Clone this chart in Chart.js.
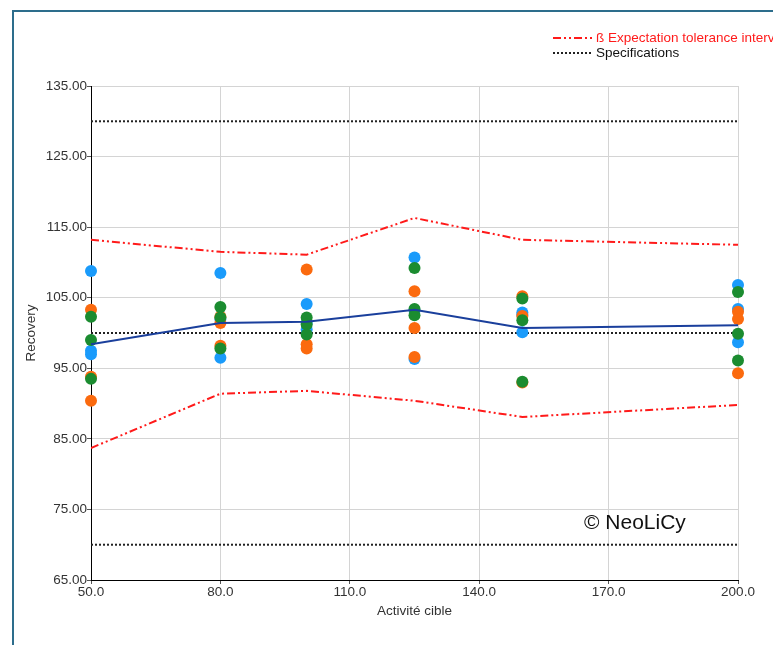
<!DOCTYPE html>
<html>
<head>
<meta charset="utf-8">
<script src="https://cdn.jsdelivr.net/npm/chart.js@4/dist/chart.umd.min.js"></script>
<style>
    html, body { margin: 0; padding: 0; background: #fff; }
    #wrap { position: relative; width: 773px; height: 645px; }
</style>
</head>
<body>
<div id="wrap"><canvas id="ctx" width="773" height="645"></canvas></div>
<script>
// target activity levels
const levels = [50, 80, 100, 125, 150, 200];

// recovery per level, three replicates per series
const seriesBlue = [[108.8, 97.5, 97.0], [108.5, 102.0, 96.5], [104.1, 101.4, 100.5], [110.7, 103.2, 96.3], [102.9, 102.6, 100.1], [106.8, 103.4, 98.7]];
const seriesOrange = [[103.3, 93.8, 90.4], [102.3, 101.4, 98.2], [109.0, 98.4, 97.8], [105.9, 100.7, 96.6], [105.2, 102.4, 93.0], [103.0, 102.0, 94.3]];
const seriesGreen = [[102.3, 99.0, 93.5], [103.7, 102.2, 97.8], [102.2, 101.2, 99.8], [109.2, 103.4, 102.5], [104.9, 101.8, 93.1], [105.8, 99.9, 96.1]];

const meanRecovery = [98.4, 101.4, 101.6, 103.3, 100.7, 101.1];
const toleranceUpper = [113.2, 111.5, 111.1, 116.3, 113.2, 112.5];
const toleranceLower = [83.7, 91.4, 91.8, 90.4, 88.1, 89.8];

const specLower = 70;
const specTarget = 100;
const specUpper = 130;

const yTicks = [65, 75, 85, 95, 105, 115, 125, 135];
const xTicks = [50, 80, 110, 140, 170, 200];

const toleranceLabel = 'ß Expectation tolerance interval';
const specLabel = 'Specifications';
const watermark = '© NeoLiCy';

const font = '"Liberation Sans", Arial, sans-serif';
const fontSize = 13.5;
const redDash = [8, 3, 2, 3, 2, 3];
const dotDash = [2, 2];

function points(values) {
    let out = [];
    values.forEach((reps, i) => reps.forEach(v => out.push({x: levels[i], y: v})));
    return out;
}

function line(values) {
    return values.map((v, i) => ({x: levels[i], y: v}));
}

function flat(v) {
    return [{x: xTicks[0], y: v}, {x: xTicks[xTicks.length - 1], y: v}];
}

function lineSet(label, data, color, dash, order) {
    return {
        type: 'line', label: label, data: data,
        borderColor: color, borderWidth: 2, borderDash: dash,
        pointRadius: 0, fill: false, tension: 0, order: order
    };
}

function pointSet(label, data, color, order) {
    return {
        type: 'scatter', label: label, data: data,
        backgroundColor: color, borderWidth: 0, clip: false,
        pointRadius: 6, pointHoverRadius: 6, order: order
    };
}

// frame, legend and watermark drawn straight onto the canvas
const decorations = {
    id: 'decorations',
    beforeDraw(chart) {
        let c = chart.ctx;
        c.save();
        c.fillStyle = '#fff';
        c.fillRect(0, 0, chart.width, chart.height);
        c.strokeStyle = '#2d6d8c';
        c.lineWidth = 2;
        c.beginPath();
        c.moveTo(13, chart.height);
        c.lineTo(13, 11);
        c.lineTo(chart.width, 11);
        c.stroke();
        c.restore();
    },
    afterDraw(chart) {
        let c = chart.ctx;
        c.save();
        let items = [
            {text: toleranceLabel, color: '#ff1a1a', text_color: '#ff1a1a', dash: redDash, y: 38},
            {text: specLabel, color: '#222', text_color: '#111', dash: dotDash, y: 53}
        ];
        c.font = fontSize + 'px ' + font;
        c.textBaseline = 'middle';
        for (let it of items) {
            c.strokeStyle = it.color;
            c.lineWidth = 2;
            c.setLineDash(it.dash);
            c.beginPath();
            c.moveTo(553, it.y);
            c.lineTo(592, it.y);
            c.stroke();
            c.setLineDash([]);
            c.fillStyle = it.text_color;
            c.fillText(it.text, 596, it.y);
        }
        c.font = '21px ' + font;
        c.fillStyle = '#111';
        c.textBaseline = 'alphabetic';
        c.fillText(watermark, 584, 529);
        c.restore();
    }
};

const chart = new Chart(document.getElementById('ctx'), {
    data: {
        datasets: [
            lineSet('Mean', line(meanRecovery), '#1a3f9c', [], 0),
            pointSet('Series 3', points(seriesGreen), '#1b8c30', 1),
            pointSet('Series 2', points(seriesOrange), '#fb6a0e', 2),
            pointSet('Series 1', points(seriesBlue), '#1a9bfb', 3),
            lineSet(toleranceLabel, line(toleranceUpper), '#ff1a1a', redDash, 4),
            lineSet(toleranceLabel, line(toleranceLower), '#ff1a1a', redDash, 4),
            lineSet(specLabel, flat(specUpper), '#222', dotDash, 5),
            lineSet(specLabel, flat(specTarget), '#222', dotDash, 5),
            lineSet(specLabel, flat(specLower), '#222', dotDash, 5)
        ]
    },
    options: {
        responsive: false,
        maintainAspectRatio: false,
        animation: false,
        devicePixelRatio: 1,
        layout: {padding: {left: 19, right: 35, top: 86, bottom: 23}},
        plugins: {legend: {display: false}, tooltip: {enabled: false}},
        scales: {
            x: {
                type: 'linear', min: 50, max: 200,
                afterBuildTicks: s => { s.ticks = xTicks.map(v => ({value: v})); },
                afterFit: s => { s.height = 42; },
                ticks: {
                    callback: v => Number(v).toFixed(1),
                    color: '#333', font: {family: font, size: fontSize}, padding: 0,
                    maxRotation: 0, autoSkip: false
                },
                grid: {color: '#d4d4d4', tickLength: 4, tickColor: '#555'},
                border: {color: '#000', width: 1},
                title: {display: true, text: 'Activité cible', color: '#333', font: {family: font, size: fontSize}, padding: 3}
            },
            y: {
                min: 65, max: 135,
                afterBuildTicks: s => { s.ticks = yTicks.map(v => ({value: v})); },
                afterFit: s => { s.width = 72; },
                ticks: {
                    callback: v => Number(v).toFixed(2),
                    color: '#333', font: {family: font, size: fontSize}, padding: 0
                },
                grid: {color: '#d4d4d4', tickLength: 4, tickColor: '#555'},
                border: {color: '#000', width: 1},
                title: {display: true, text: 'Recovery', color: '#333', font: {family: font, size: fontSize}, padding: 4}
            }
        }
    },
    plugins: [decorations]
});
</script>
</body>
</html>
